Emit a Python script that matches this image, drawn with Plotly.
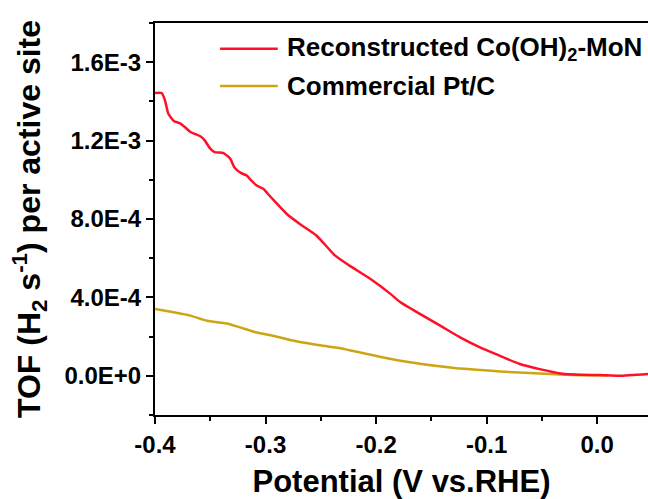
import plotly.graph_objects as go

# Potential (V vs. RHE) and TOF per active site for each catalyst
co_name = "Reconstructed Co(OH)<sub>2</sub>-MoN"
co_potential = [-0.400, -0.394, -0.391, -0.388, -0.383, -0.377, -0.373, -0.368, -0.359,
                -0.355, -0.350, -0.346, -0.338, -0.332, -0.328, -0.322, -0.317, -0.313,
                -0.308, -0.302, -0.298, -0.291, -0.281, -0.269, -0.254, -0.237, -0.224,
                -0.205, -0.187, -0.178, -0.160, -0.142, -0.124, -0.106, -0.088, -0.070,
                -0.052, -0.033, -0.015, 0.002, 0.020, 0.046]
co_tof = [1.443e-3, 1.443e-3, 1.406e-3, 1.338e-3, 1.300e-3, 1.287e-3, 1.269e-3, 1.244e-3, 1.222e-3,
          1.201e-3, 1.159e-3, 1.141e-3, 1.136e-3, 1.108e-3, 1.062e-3, 1.034e-3, 1.022e-3, 0.997e-3,
          0.971e-3, 0.954e-3, 0.929e-3, 0.886e-3, 0.827e-3, 0.775e-3, 0.716e-3, 0.613e-3, 0.562e-3,
          0.494e-3, 0.418e-3, 0.375e-3, 0.315e-3, 0.256e-3, 0.196e-3, 0.145e-3, 0.102e-3, 0.060e-3,
          0.034e-3, 0.012e-3, 0.005e-3, 0.004e-3, 0.000e-3, 0.009e-3]

pt_name = "Commercial Pt/C"
pt_potential = [-0.400, -0.383, -0.368, -0.353, -0.335, -0.323, -0.308, -0.293, -0.278,
                -0.263, -0.248, -0.233, -0.224, -0.178, -0.133, -0.088, -0.043, -0.015, 0.010]
pt_tof = [0.341e-3, 0.324e-3, 0.307e-3, 0.281e-3, 0.267e-3, 0.247e-3, 0.221e-3, 0.204e-3, 0.183e-3,
          0.167e-3, 0.153e-3, 0.142e-3, 0.130e-3, 0.077e-3, 0.042e-3, 0.022e-3, 0.009e-3, 0.003e-3, 0.001e-3]

x_tick_vals = [-0.4, -0.3, -0.2, -0.1, 0.0]
x_tick_text = ["-0.4", "-0.3", "-0.2", "-0.1", "0.0"]
y_tick_vals = [0.0, 4e-4, 8e-4, 1.2e-3, 1.6e-3]
y_tick_text = ["0.0E+0", "4.0E-4", "8.0E-4", "1.2E-3", "1.6E-3"]

RED = "#FF1028"
GOLD = "#CDA513"
FONT = "Liberation Sans, Arial, sans-serif"

fig = go.Figure()
fig.add_trace(go.Scatter(x=pt_potential, y=pt_tof, mode="lines", name=pt_name,
                         line=dict(color=GOLD, width=2.5, shape="spline", smoothing=0.5)))
fig.add_trace(go.Scatter(x=co_potential, y=co_tof, mode="lines", name=co_name,
                         line=dict(color=RED, width=2.5, shape="spline", smoothing=0.5)))

axis_common = dict(
    showgrid=False, zeroline=False, showline=True, linecolor="black", linewidth=2,
    ticks="outside", ticklen=7, tickwidth=2, tickcolor="black",
    tickfont=dict(family=FONT, size=24, color="black", weight="bold"),
)

fig.update_xaxes(
    **axis_common, range=[-0.4, 0.046], mirror=True,
    tickmode="array", tickvals=x_tick_vals, ticktext=x_tick_text,
    minor=dict(dtick=0.05, tick0=-0.4, ticks="outside", ticklen=4, tickwidth=2, tickcolor="black"),
    title=dict(text="Potential (V vs.RHE)", standoff=19,
               font=dict(family=FONT, size=31, color="black", weight="bold")),
)
fig.update_yaxes(
    **axis_common, range=[-2e-4, 1.8e-3], mirror=False,
    tickmode="array", tickvals=y_tick_vals, ticktext=y_tick_text,
    minor=dict(dtick=2e-4, tick0=0, ticks="outside", ticklen=4, tickwidth=2, tickcolor="black"),
    title=dict(text="TOF (H<sub>2</sub> s<sup>-1</sup>) per active site", standoff=14,
               font=dict(family=FONT, size=32, color="black", weight="bold")),
)

# Legend drawn as sample lines plus labels in the upper part of the axes
legend_rows = [(co_name, RED, 0.934), (pt_name, GOLD, 0.839)]
for label, color, ypos in legend_rows:
    fig.add_shape(type="line", xref="paper", yref="paper", x0=0.132, x1=0.249,
                  y0=ypos, y1=ypos, line=dict(color=color, width=2.5))
    fig.add_annotation(xref="paper", yref="paper", x=0.264, y=ypos, xanchor="left",
                       yanchor="middle", showarrow=False, text=label,
                       font=dict(family=FONT, size=26, color="black", weight="bold"))

fig.update_layout(
    width=648, height=499, showlegend=False,
    paper_bgcolor="white", plot_bgcolor="white",
    margin=dict(l=155, r=0, t=23, b=84),
)

fig.write_html("out.html")
